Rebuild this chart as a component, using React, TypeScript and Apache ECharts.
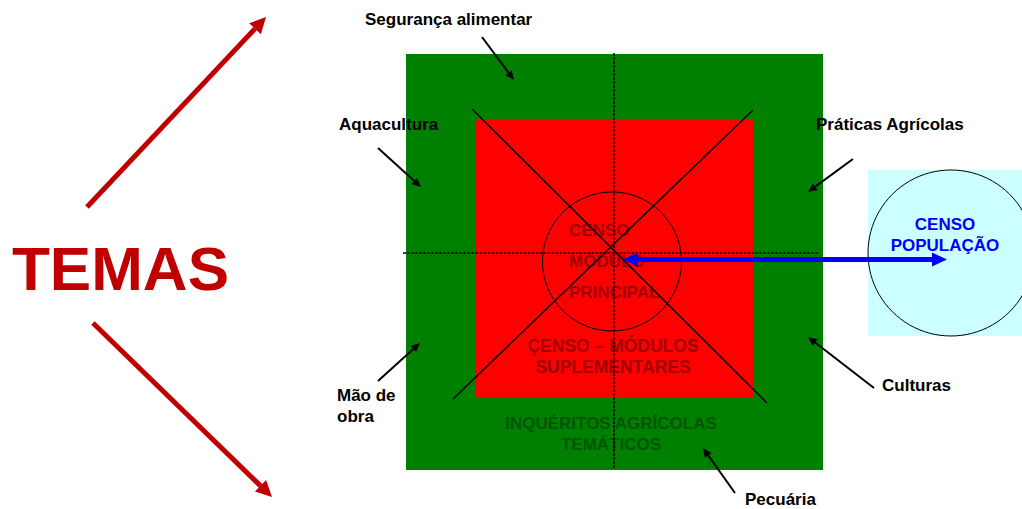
import React, { useEffect, useRef } from "react";
import * as echarts from "echarts";

// ---- content ----
const themeTitle = "TEMAS";
const topicNames = ["Segurança alimentar", "Aquacultura", "Práticas Agrícolas", "Mão de\nobra", "Culturas", "Pecuária"];
const coreLines = ["CENSO", "MÓDULO", "PRINCIPAL"];
const supplementLines = ["ÇENSO – MÓDULOS", "SUPLEMENTARES"];
const surveyLines = ["INQUÉRITOS AGRÍCOLAS", "TEMÁTICOS"];
const populationLines = ["CENSO", "POPULAÇÃO"];

// ---- layout (pixels) ----
const topicLayout = [
  { x: 365, y: 19, ax: [482, 37, 514, 80] },
  { x: 339, y: 124, ax: [378, 148, 421, 187] },
  { x: 816, y: 124, ax: [853, 159, 808, 192] },
  { x: 337, y: 406, ax: [378, 381, 420, 343] },
  { x: 882, y: 385, ax: [874, 388, 808, 337] },
  { x: 745, y: 499, ax: [735, 493, 703, 448] },
];

const FONT = "'Liberation Sans', Arial, sans-serif";

function arrowHead(x1: number, y1: number, x2: number, y2: number, len: number, half: number) {
  const dx = x2 - x1, dy = y2 - y1;
  const d = Math.hypot(dx, dy);
  const ux = dx / d, uy = dy / d;
  const bx = x2 - ux * len, by = y2 - uy * len;
  const px = -uy, py = ux;
  return {
    base: [bx, by],
    pts: [[x2, y2], [bx + px * half, by + py * half], [bx - px * half, by - py * half]],
  };
}

function arrow(x1: number, y1: number, x2: number, y2: number, color: string, lw: number, len: number, half: number, z = 10) {
  const h = arrowHead(x1, y1, x2, y2, len, half);
  return [
    { type: "line", z, shape: { x1, y1, x2: h.base[0], y2: h.base[1] }, style: { stroke: color, lineWidth: lw } },
    { type: "polygon", z, shape: { points: h.pts }, style: { fill: color } },
  ];
}

function doubleArrow(x1: number, y1: number, x2: number, y2: number, color: string, lw: number, len: number, half: number, z = 20) {
  const h1 = arrowHead(x1, y1, x2, y2, len, half);
  const h2 = arrowHead(x2, y2, x1, y1, len, half);
  return [
    { type: "line", z, shape: { x1: h2.base[0], y1: h2.base[1], x2: h1.base[0], y2: h1.base[1] }, style: { stroke: color, lineWidth: lw } },
    { type: "polygon", z, shape: { points: h1.pts }, style: { fill: color } },
    { type: "polygon", z, shape: { points: h2.pts }, style: { fill: color } },
  ];
}

function txt(text: string, x: number, y: number, size: number, color: string, align = "left", z = 5, lineHeight?: number) {
  return {
    type: "text",
    z,
    x,
    y,
    style: {
      text,
      fill: color,
      font: `bold ${size}px ${FONT}`,
      textAlign: align,
      textVerticalAlign: "middle",
      lineHeight: lineHeight ?? Math.round(size * 1.25),
    },
  };
}

export default function App() {
  const ref = useRef<HTMLDivElement>(null);
  useEffect(() => {
    if (!ref.current) return;
    const chart = echarts.init(ref.current, null, { renderer: "svg" });
    const els: any[] = [];

    // backgrounds
    els.push({ type: "rect", z: 1, shape: { x: 406, y: 54, width: 417, height: 416 }, style: { fill: "#008000" } });
    els.push({ type: "rect", z: 2, shape: { x: 475, y: 119, width: 278, height: 279 }, style: { fill: "#ff0000" } });
    els.push({ type: "rect", z: 1, shape: { x: 868, y: 170, width: 154, height: 166 }, style: { fill: "#ccffff" } });
    els.push({ type: "circle", z: 3, shape: { cx: 951, cy: 253, r: 83 }, style: { fill: "none", stroke: "#000", lineWidth: 1 } });

    // inner texts
    const coreY = [230, 261, 292];
    coreLines.forEach((t, i) => els.push(txt(t, 569, coreY[i], 17, "#a00000", "left", 5)));
    const supY = [346, 367];
    supplementLines.forEach((t, i) => els.push(txt(t, 613, supY[i], 17.5, "#a00000", "center", 5)));
    const surY = [423, 444];
    surveyLines.forEach((t, i) => els.push(txt(t, 611, surY[i], 17, "#005500", "center", 5)));
    const popY = [224, 245];
    populationLines.forEach((t, i) => els.push(txt(t, 945, popY[i], 17, "#0000ff", "center", 5)));

    // circle + cross
    els.push({ type: "circle", z: 8, shape: { cx: 612, cy: 261.5, r: 69.5 }, style: { fill: "none", stroke: "#000", lineWidth: 1 } });
    els.push({ type: "line", z: 9, shape: { x1: 614, y1: 53, x2: 614, y2: 468 }, style: { stroke: "#000", lineWidth: 1.6, lineDash: [3, 1] } });
    els.push({ type: "line", z: 9, shape: { x1: 403, y1: 253, x2: 819, y2: 253 }, style: { stroke: "#000", lineWidth: 1.6, lineDash: [3, 1] } });
    els.push({ type: "line", z: 9, shape: { x1: 472, y1: 109, x2: 767, y2: 403 }, style: { stroke: "#000", lineWidth: 1.5 } });
    els.push({ type: "line", z: 9, shape: { x1: 753, y1: 110, x2: 453, y2: 399 }, style: { stroke: "#000", lineWidth: 1.5 } });

    // blue double arrow
    els.push(...doubleArrow(623, 259.5, 947, 259.5, "#0000ff", 5, 15, 7, 20));

    // TEMAS
    els.push(txt(themeTitle, 12, 268, 62, "#c00000", "left", 5));
    els.push(...arrow(87, 207, 266, 17, "#c00000", 5, 16, 8, 10));
    els.push(...arrow(93, 323, 272, 497, "#c00000", 5, 16, 8, 10));

    // topic labels and arrows
    topicNames.forEach((t, i) => {
      const L = topicLayout[i];
      els.push(txt(t, L.x, L.y, 17, "#000", "left", 12, 21));
      const [a, b, c, d] = L.ax;
      els.push(...arrow(a, b, c, d, "#000", 2, 9, 4, 12));
    });

    chart.setOption({ animation: false, graphic: { elements: els } });
    return () => chart.dispose();
  }, []);
  return <div ref={ref} style={{ position: "fixed", left: 0, top: 0, width: 1022, height: 509, background: "#fff" }} />;
}
